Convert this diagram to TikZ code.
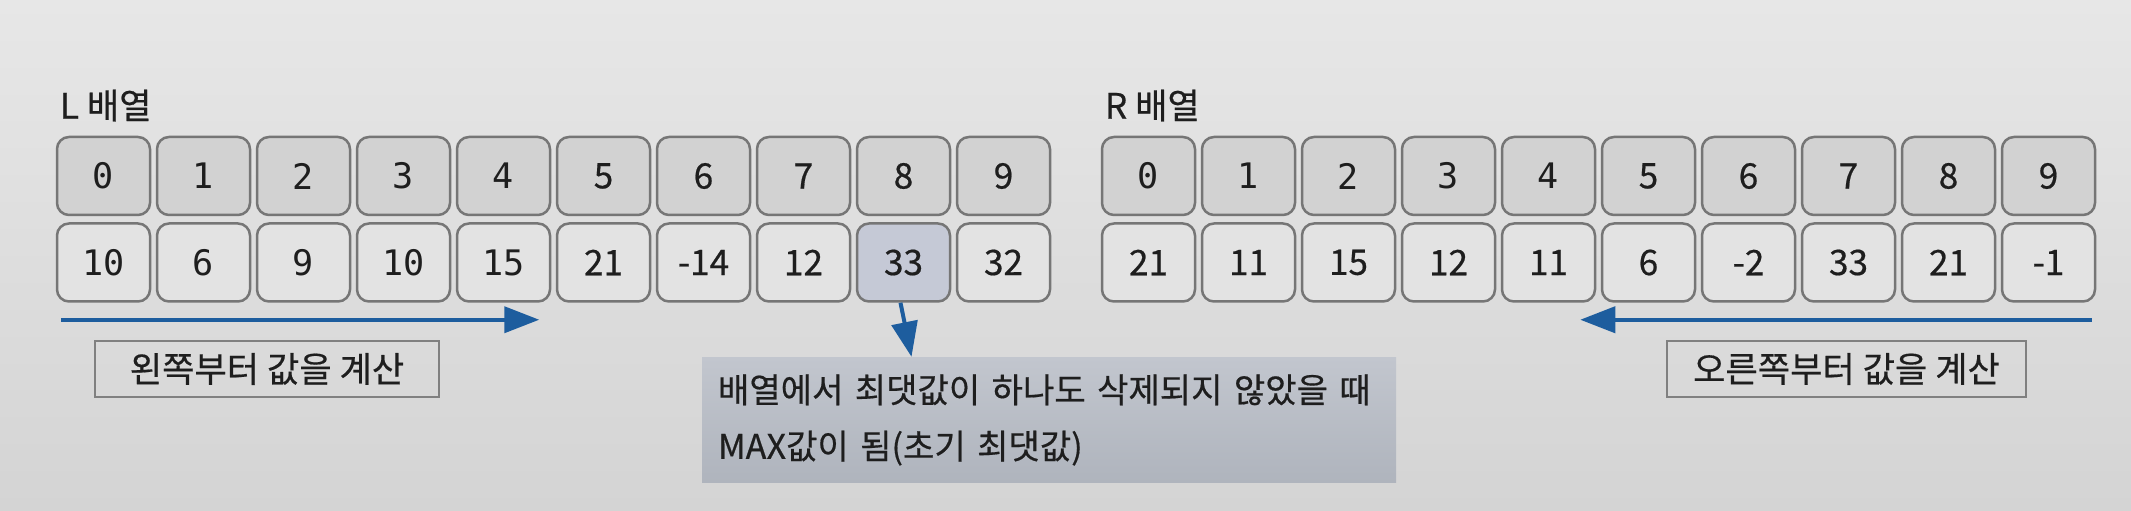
\documentclass[tikz,border=0pt]{standalone}
\usepackage{fontspec}
\setmainfont{Noto Sans CJK KR}[FakeBold=0.5]
\newfontfamily\codefont{DejaVu Sans Mono}
\usetikzlibrary{positioning}
\usetikzlibrary{calc}
\usetikzlibrary{arrows.meta}
\definecolor{slidetop}{RGB}{231,231,231}
\definecolor{slidebottom}{RGB}{212,212,212}
\definecolor{cellborder}{RGB}{118,118,118}
\definecolor{indexgray}{RGB}{210,210,210}
\definecolor{valuegray}{RGB}{227,227,227}
\definecolor{maxblue}{RGB}{197,201,214}
\definecolor{arrowblue}{RGB}{29,93,158}
\definecolor{notetop}{RGB}{194,198,206}
\definecolor{notebottom}{RGB}{175,180,189}
\definecolor{textgray}{RGB}{30,30,30}

\begin{document}
\begin{tikzpicture}[x=0.1mm, y=-0.1mm, node distance=0.45mm,
    every node/.style={align=center, font=\fontsize{10}{12}\selectfont, text=textgray},
    cell/.style={draw=cellborder, line width=0.25mm, rounded corners=1.2mm, minimum width=9.3mm, minimum height=7.8mm, inner sep=0pt},
    idxcell/.style={cell, fill=indexgray},
    valcell/.style={cell, fill=valuegray},
    notebox/.style={draw=gray, line width=0.2mm, minimum width=34.4mm, minimum height=5.6mm},
    flow/.style={draw=arrowblue, line width=0.4mm, -{Triangle[length=3.5mm, width=2.6mm]}},
    arraytitle/.style={inner sep=0pt, anchor=base west}]

        % Background
        \shade[top color=slidetop, bottom color=slidebottom] (0,0) rectangle (2131,511);
        \useasboundingbox (0,0) rectangle (2131,511);

        % L array
        \node[idxcell] (L0) at (103.5,176) {\codefont 0};
        \foreach \i [remember=\i as \j (initially 0)] in {1,...,9}
            \node[idxcell, right=of L\j] (L\i) {\ifnum\i<5 \codefont\fi\i};
        \foreach \v/\f [count=\i from 0] in {10/valuegray,6/valuegray,9/valuegray,10/valuegray,15/valuegray,21/valuegray,-14/valuegray,12/valuegray,33/maxblue,32/valuegray}
            \node[valcell, fill=\f, below=0.6mm of L\i] (Lv\i) {\ifnum\i<5 \codefont\fi\v};
        \node[arraytitle] (Ltitle) at ([xshift=0.35mm, yshift=1.7mm]L0.north west) {L 배열};

        % R array
        \node[idxcell] (R0) at (1148.5,176) {\codefont 0};
        \foreach \i [remember=\i as \j (initially 0)] in {1,...,9}
            \node[idxcell, right=of R\j] (R\i) {\ifnum\i<5 \codefont\fi\i};
        \foreach \v [count=\i from 0] in {21,11,15,12,11,6,-2,33,21,-1}
            \node[valcell, below=0.6mm of R\i] (Rv\i) {\v};
        \node[arraytitle] (Rtitle) at ([xshift=0.35mm, yshift=1.7mm]R0.north west) {R 배열};

        % Left to right
        \coordinate (lstart) at ([xshift=0.5mm, yshift=-1.7mm]Lv0.south west);
        \coordinate (lend) at ([xshift=-1.2mm, yshift=-1.7mm]Lv4.south east);
        \draw[flow] (lstart) -- (lend);
        \node[notebox] (lnote) at (267,369) {왼쪽부터 값을 계산};

        % Right to left
        \coordinate (rstart) at ([xshift=-0.45mm, yshift=-1.7mm]Rv9.south east);
        \coordinate (rend) at ([xshift=-1.6mm, yshift=-1.7mm]Rv4.south east);
        \draw[flow] (rstart) -- (rend);
        \node[notebox, minimum width=35.9mm] (rnote) at (1846.5,369) {오른쪽부터 값을 계산};

        % Max note
        \node[top color=notetop, bottom color=notebottom, minimum height=12.5mm, text width=66.2mm, inner xsep=1.6mm, align=left, font=\fontsize{9.7}{16}\selectfont] (maxnote) at (1049,420) {%
            배열에서 최댓값이 하나도 삭제되지 않았을 때\\
            MAX값이 됨(초기 최댓값)};
        \coordinate (maxtip) at ([xshift=0.8mm]Lv8.south |- maxnote.north);
        \draw[flow] ([xshift=-0.3mm]Lv8.south) -- (maxtip);

    \end{tikzpicture}
\end{document}
